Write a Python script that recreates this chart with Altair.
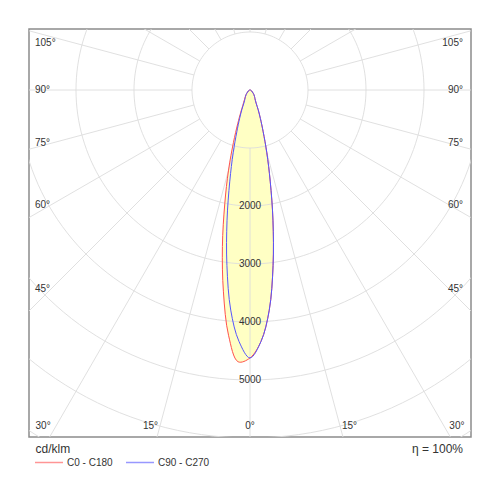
import math
import altair as alt
import pandas as pd

# ---------------- data ----------------
ANGLES = [0, 2.5, 5, 7.5, 10, 12.5, 15, 17.5, 20, 22.5, 25, 30, 35, 40, 45, 50, 60, 70, 80, 90]
C0 = [4620, 4340, 3810, 3050, 2280, 1610, 1120, 755, 525, 370, 250, 170, 135, 105, 78, 52, 34, 17, 8, 0]
C180 = [4620, 4690, 4245, 3510, 2740, 2010, 1430, 950, 620, 415, 295, 190, 140, 105, 78, 52, 34, 17, 8, 0]
C90 = [4620, 4340, 3810, 3050, 2280, 1610, 1120, 755, 525, 370, 250, 170, 135, 105, 78, 52, 34, 17, 8, 0]
C270 = [4620, 4340, 3810, 3050, 2280, 1610, 1120, 755, 525, 370, 250, 170, 135, 105, 78, 52, 34, 17, 8, 0]

SERIES = ["C0 - C180", "C90 - C270"]
COLORS = ["#ff5050", "#5555ff"]
FILL = "#ffffc4"

RINGS = [1000, 2000, 3000, 4000, 5000, 6000, 7000]
RING_LABELS = [2000, 3000, 4000, 5000]
SPOKES = list(range(0, 360, 15))
SIDE_LABELS = [45, 60, 75, 90, 105]
BOTTOM_LABELS = [30, 15, 0]
UNIT = "cd/klm"
EFFICIENCY = "\u03b7 = 100%"

FONT = "Liberation Sans"
TXT = "#333333"

# ---------------- geometry of the plot area ----------------
W, H = 442, 408          # plot area in px
PX = 0.058               # px per cd/klm
CX, CY = 221, 61         # centre of the diagram inside the plot area (px)
XDOM = [-CX / PX, (W - CX) / PX]
YDOM = [-(H - CY) / PX, CY / PX]

xs = alt.Scale(domain=XDOM, nice=False, zero=False)
ys = alt.Scale(domain=YDOM, nice=False, zero=False)


def pol(r, g):
    a = math.radians(g)
    return r * math.sin(a), -r * math.cos(a)


# curves
rows = []
for s, left, right in [(SERIES[0], C180, C0), (SERIES[1], C270, C90)]:
    i = 0
    for a, v in reversed(list(zip(ANGLES, left))):
        x, y = pol(v, -a)
        rows.append(dict(series=s, i=i, x=x, y=y)); i += 1
    for a, v in list(zip(ANGLES, right))[1:]:
        x, y = pol(v, a)
        rows.append(dict(series=s, i=i, x=x, y=y)); i += 1
curve = pd.DataFrame(rows)

# rings
rrows = []
for R in RINGS:
    for t in range(0, 362, 2):
        x, y = pol(R, t)
        rrows.append(dict(ring=R, t=t, x=x, y=y))
rings = pd.DataFrame(rrows)

# spokes
srows = []
for g in SPOKES:
    x, y = pol(RINGS[0], g)
    x2, y2 = pol(9000, g)
    srows.append(dict(x=x, y=y, x2=x2, y2=y2))
spokes = pd.DataFrame(srows)

# ring labels
rlab = pd.DataFrame([dict(x=0, y=-R, t=str(R)) for R in RING_LABELS])

# angle labels
ymax = (CY - 14) / PX
lrows, rrows2 = [], []
for g in SIDE_LABELS:
    yy = -(199 / PX) / math.tan(math.radians(g)) if g != 90 else 0.0
    yy = min(yy, ymax)
    lrows.append(dict(x=-(CX - 6) / PX, y=yy, t=f"{g}\u00b0"))
    rrows2.append(dict(x=(W - CX - 8) / PX, y=yy, t=f"{g}\u00b0"))
yb = -(425.7 - 90) / PX
crow = []
for g in BOTTOM_LABELS:
    d = (347 * math.tan(math.radians(g)) - 1) / PX
    if g == 0:
        crow.append(dict(x=0, y=yb, t=f"{g}\u00b0"))
    else:
        lrows.append(dict(x=-d, y=yb, t=f"{g}\u00b0", a="r"))
        rrows2.append(dict(x=d, y=yb, t=f"{g}\u00b0", a="l"))
side_left = pd.DataFrame([r for r in lrows if r.get("a") is None])
side_right = pd.DataFrame([r for r in rrows2 if r.get("a") is None])
bot_left = pd.DataFrame([r for r in lrows if r.get("a") == "r"])
bot_right = pd.DataFrame([r for r in rrows2 if r.get("a") == "l"])
bot_mid = pd.DataFrame(crow)
eff = pd.DataFrame([dict(x=(463 - 250) / PX, y=-(449 - 90) / PX, t=EFFICIENCY)])
unit = pd.DataFrame([dict(x=(35.5 - 250) / PX, y=-(449 - 90) / PX, t=UNIT)])

X = lambda: alt.X("x:Q", scale=xs, axis=None)
Y = lambda: alt.Y("y:Q", scale=ys, axis=None)

fill = alt.Chart(curve).mark_line(
    fill=FILL, stroke=FILL, strokeWidth=0.5, interpolate="catmull-rom", clip=True
).encode(x=X(), y=Y(), detail="series:N", order="i:Q")

ring_layer = alt.Chart(rings).mark_line(
    stroke="#dcdcdc", strokeWidth=0.9, clip=True
).encode(x=X(), y=Y(), detail="ring:N", order="t:Q")

spoke_layer = alt.Chart(spokes).mark_rule(
    stroke="#dcdcdc", strokeWidth=0.9, clip=True
).encode(x=X(), y=Y(), x2="x2:Q", y2="y2:Q")

lines = alt.Chart(curve).mark_line(
    strokeWidth=1, interpolate="catmull-rom", clip=True
).encode(
    x=X(), y=Y(), order="i:Q",
    color=alt.Color(
        "series:N",
        scale=alt.Scale(domain=SERIES, range=COLORS),
        legend=alt.Legend(
            title=None, orient="none", legendX=5, legendY=418.5,
            direction="horizontal", symbolType="stroke", symbolSize=784,
            symbolStrokeWidth=1.5, symbolOpacity=0.6, labelFontSize=10,
            labelOffset=3, columnPadding=10, padding=0, labelColor=TXT,
            labelFont=FONT,
        ),
    ),
)


def text(df, align, size=10):
    return alt.Chart(df).mark_text(
        align=align, baseline="middle", fontSize=size, font=FONT, color=TXT
    ).encode(x=X(), y=Y(), text="t:N")


chart = alt.layer(
    fill, ring_layer, spoke_layer, lines,
    text(rlab, "center"),
    text(side_left, "left"), text(side_right, "right"),
    text(bot_left, "right"), text(bot_right, "left"), text(bot_mid, "center"),
    text(eff, "right", 12), text(unit, "left", 12),
).properties(
    width=W, height=H,
    padding={"left": 21, "top": 21, "right": 21, "bottom": 55},
    autosize=alt.AutoSizeParams(type="none"),
    background="white",
).configure_view(stroke="#8c8c8c", strokeWidth=1.5)

chart.save("out.html", embed_options={"renderer": "svg", "actions": False})
